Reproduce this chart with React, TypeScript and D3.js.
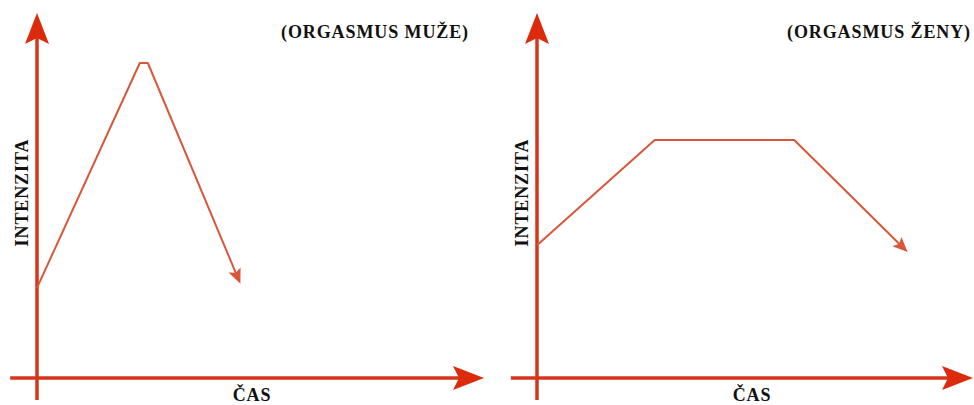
import React from "react";
import * as d3 from "d3";

// chart data (time / intensity, both 0..100)
const panelTitles = ["(ORGASMUS MUŽE)", "(ORGASMUS ŽENY)"];
const xAxisLabel = "ČAS";
const yAxisLabel = "INTENZITA";

const maleTime = [0, 23, 24.8, 45.5];
const maleIntensity = [24.7, 86.3, 86.3, 25.8];
const femaleTime = [0, 27, 59, 85];
const femaleIntensity = [36.4, 65.2, 65.2, 34.5];

const W = 974;
const H = 405;
const AXIS = "#d6351b";
const HEAD = "#dc2a0c";
const LINE = "#d8573a";
const FONT = "'Liberation Serif', 'Times New Roman', serif";

type Pt = [number, number];

// triangle arrow head with a small notch, tip at end
const arrowHead = (from: Pt, to: Pt, len: number, half: number, notch: number) => {
  const ang = Math.atan2(to[1] - from[1], to[0] - from[0]);
  const c = Math.cos(ang), s = Math.sin(ang);
  const p = (dx: number, dy: number): Pt => [to[0] + dx * c - dy * s, to[1] + dx * s + dy * c];
  const pts = [p(0, 0), p(-len, -half), p(-notch, 0), p(-len, half)];
  return "M" + pts.map(q => q.join(",")).join("L") + "Z";
};

const shorten = (from: Pt, to: Pt, by: number): Pt => {
  const d = Math.hypot(to[0] - from[0], to[1] - from[1]);
  const k = (d - by) / d;
  return [from[0] + (to[0] - from[0]) * k, from[1] + (to[1] - from[1]) * k];
};

const Panel = ({ title, time, intensity, xRange, titleX, casX }: {
  title: string; time: number[]; intensity: number[]; xRange: [number, number]; titleX: number; casX: number;
}) => {
  const x = d3.scaleLinear().domain([0, 100]).range(xRange);
  const y = d3.scaleLinear().domain([0, 100]).range([378, 13]);

  // axes
  const yStart: Pt = [x(0), y(-6)];
  const yEnd: Pt = [x(0), y(100)];
  const xStart: Pt = [x(-6), y(0)];
  const xEnd: Pt = [x(100), y(0)];

  const pts: Pt[] = time.map((t, i) => [x(t), y(intensity[i])]);
  const n = pts.length;
  const linePts = [...pts.slice(0, n - 1), shorten(pts[n - 2], pts[n - 1], 10)];
  const line = d3.line<Pt>().x(d => d[0]).y(d => d[1]);

  const yMid = (y(100) + y(0)) / 2;

  return (
    <g>
      <line x1={yStart[0]} y1={yStart[1]} x2={yEnd[0]} y2={yEnd[1] + 25} stroke={AXIS} strokeWidth={3.5} />
      <path d={arrowHead(yStart, yEnd, 31, 12, 25)} fill={HEAD} />
      <line x1={xStart[0]} y1={xStart[1]} x2={xEnd[0] - 25} y2={xEnd[1]} stroke={AXIS} strokeWidth={3.5} />
      <path d={arrowHead(xStart, xEnd, 31, 12, 25)} fill={HEAD} />

      <path d={line(linePts) || ""} fill="none" stroke={LINE} strokeWidth={2} strokeLinejoin="round" />
      <path d={arrowHead(pts[n - 2], pts[n - 1], 15, 6.5, 12)} fill={LINE} />

      <text x={titleX} y={38} textAnchor="end" fontFamily={FONT} fontWeight="bold" fontSize={18} letterSpacing={0.9} fill="#111">
        {title}
      </text>
      <text x={casX} y={401} textAnchor="middle" fontFamily={FONT} fontWeight="bold" fontSize={18} letterSpacing={0.9} fill="#111">
        {xAxisLabel}
      </text>
      <text transform={`translate(${x(0) - 9},${yMid - 3}) rotate(-90)`} textAnchor="middle" fontFamily={FONT}
        fontWeight="bold" fontSize={18} letterSpacing={0.9} fill="#111">
        {yAxisLabel}
      </text>
    </g>
  );
};

export default function App() {
  return (
    <div style={{ position: "fixed", left: 0, top: 0 }}>
      <svg width={W} height={H} style={{ display: "block", background: "#fff" }}>
        <Panel title={panelTitles[0]} time={maleTime} intensity={maleIntensity} xRange={[37, 484]} titleX={469} casX={252} />
        <Panel title={panelTitles[1]} time={femaleTime} intensity={femaleIntensity} xRange={[537, 973]} titleX={971} casX={752} />
      </svg>
    </div>
  );
}
